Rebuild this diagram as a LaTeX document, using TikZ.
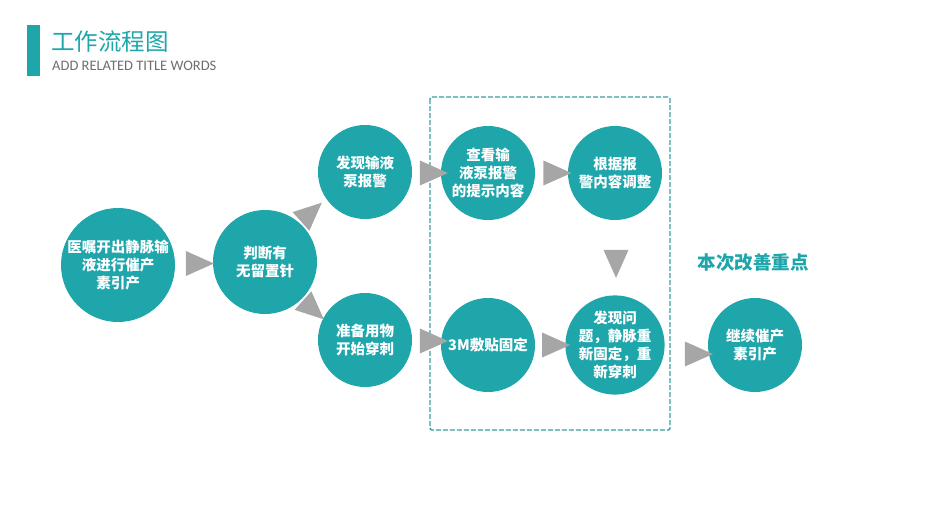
\documentclass[tikz,border=0pt]{standalone}
\usepackage{fontspec}
\setmainfont{Carlito}
\newfontfamily\cjk{Noto Sans CJK SC}
\usetikzlibrary{shapes.geometric,calc,positioning}
\definecolor{teal1}{HTML}{1FA6AB}
\definecolor{framegreen}{HTML}{3A9FA3}
\definecolor{arrowgray}{HTML}{A6A6A6}
\definecolor{subgray}{HTML}{6E6E6E}

\tikzset{
  stepcircle/.style={circle, fill=teal1, text=white, minimum size=#1, inner sep=0pt,
    align=center, font=\cjk\bfseries\fontsize{14.5}{18}\selectfont},
  stepcircle/.default=94pt,
  tri/.style={isosceles triangle, isosceles triangle stretches, fill=arrowgray,
    minimum width=25pt, minimum height=28pt, inner sep=0pt}
}

\begin{document}
\begin{tikzpicture}[x=1pt,y=-1pt]
      \useasboundingbox (0,0) rectangle (933,525);

      % title
      \fill[teal1] (27,25) rectangle (40,76);
      \node[anchor=west, text=teal1, inner sep=0pt, font=\cjk\fontsize{23.5}{23.5}\selectfont] (title) at (51,42) {工作流程图};
      \node[anchor=west, text=subgray, inner sep=0pt, font=\fontsize{14.5}{14.5}\selectfont] (subtitle) at (52,66) {ADD RELATED TITLE WORDS};

      % dashed frame
      \draw[framegreen, line width=1.4pt, dash pattern=on 5pt off 2pt, rounded corners=2pt] (430,97) rectangle (670,430);

      % steps
      \node[stepcircle=114pt] (order) at (118,265) {医嘱开出静脉输\\液进行催产\\素引产};
      \node[stepcircle=104pt] (judge) at (265,262) {判断有\\无留置针};
      \node[stepcircle] (alarm) at (365,172) {发现输液\\泵报警};
      \node[stepcircle] (prepare) at (365,340) {准备用物\\开始穿刺};
      \node[stepcircle] (check) at (488,173) {查看输\\液泵报警\\的提示内容};
      \node[stepcircle] (adjust) at (615,173) {根据报\\警内容调整};
      \node[stepcircle] (fix) at (488,345) {3M敷贴固定};
      \node[stepcircle] (redo) at (615,345) {发现问\\题，静脉重\\新固定，重\\新穿刺};
      \node[stepcircle] (goon) at (755,345) {继续催产\\素引产};

      \node[text=teal1, font=\cjk\bfseries\fontsize{18.5}{18.5}\selectfont] (focus) at (753,263) {本次改善重点};

      % arrows
      \node[tri] (a1) at ($(order.east)!0.5!(judge.west)$) {};
      \node[tri, rotate=42] (a2) at (307,216) {};
      \node[tri, rotate=-42] (a3) at (309,306) {};
      \node[tri] (a4) at (428,173) {};
      \node[tri] (a5) at ($(check.east)!0.5!(adjust.west)$) {};
      \node[tri, rotate=-90] (a6) at (616,258) {};
      \node[tri] (a7) at (428,341) {};
      \node[tri] (a8) at ($(fix.east)!0.5!(redo.west)$) {};
      \node[tri] (a9) at (693,354) {};
    \end{tikzpicture}
\end{document}
